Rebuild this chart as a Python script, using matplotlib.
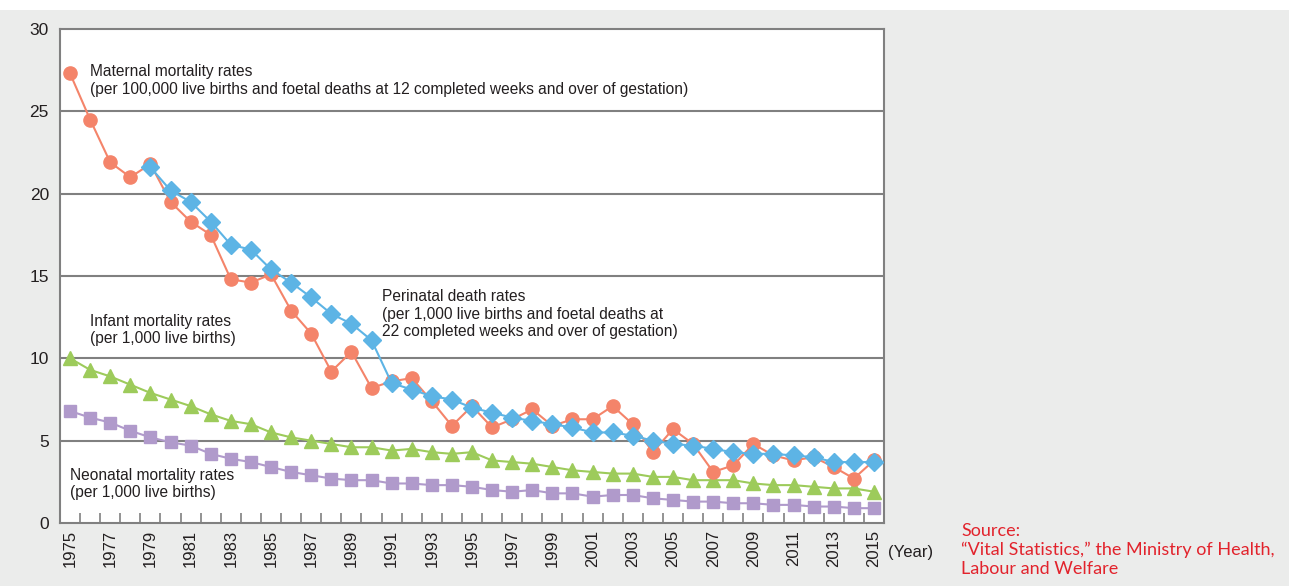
import numpy as np
import matplotlib.pyplot as plt
from matplotlib.patches import Rectangle

plt.rcParams['font.family'] = ['Liberation Sans', 'DejaVu Sans']

# Data
years = list(range(1975, 2016))

maternal = [27.3, 24.5, 21.9, 21.0, 21.8, 19.5, 18.3, 17.5, 14.8, 14.6,
            15.1, 12.9, 11.5, 9.2, 10.4, 8.2, 8.6, 8.8, 7.4, 5.9,
            7.1, 5.8, 6.3, 6.9, 5.9, 6.3, 6.3, 7.1, 6.0, 4.3,
            5.7, 4.8, 3.1, 3.5, 4.8, 4.1, 3.8, 4.0, 3.4, 2.7, 3.8]

perinatal_years = list(range(1979, 2016))
perinatal = [21.6, 20.2, 19.5, 18.3, 16.9, 16.6, 15.4, 14.6, 13.7, 12.7,
             12.1, 11.1, 8.5, 8.1, 7.7, 7.5, 7.0, 6.7, 6.4, 6.2,
             6.0, 5.8, 5.5, 5.5, 5.3, 5.0, 4.8, 4.7, 4.5, 4.3,
             4.2, 4.2, 4.1, 4.0, 3.7, 3.7, 3.7]

infant = [10.0, 9.3, 8.9, 8.4, 7.9, 7.5, 7.1, 6.6, 6.2, 6.0,
          5.5, 5.2, 5.0, 4.8, 4.6, 4.6, 4.4, 4.5, 4.3, 4.2,
          4.3, 3.8, 3.7, 3.6, 3.4, 3.2, 3.1, 3.0, 3.0, 2.8,
          2.8, 2.6, 2.6, 2.6, 2.4, 2.3, 2.3, 2.2, 2.1, 2.1, 1.9]

neonatal = [6.8, 6.4, 6.1, 5.6, 5.2, 4.9, 4.7, 4.2, 3.9, 3.7,
            3.4, 3.1, 2.9, 2.7, 2.6, 2.6, 2.4, 2.4, 2.3, 2.3,
            2.2, 2.0, 1.9, 2.0, 1.8, 1.8, 1.6, 1.7, 1.7, 1.5,
            1.4, 1.3, 1.3, 1.2, 1.2, 1.1, 1.1, 1.0, 1.0, 0.9, 0.9]

c_orange = '#F4846A'
c_blue = '#5DB4E5'
c_green = '#9DCB5B'
c_purple = '#B09ACB'
c_grid = '#808080'
c_text = '#231F20'

fig = plt.figure(figsize=(12.89, 5.86), dpi=100)
fig.patches.append(Rectangle((0, 0), 1, 1 - 10 / 586, transform=fig.transFigure,
                             facecolor='#EBECEB', edgecolor='none', zorder=-10))
ax = fig.add_axes([60 / 1289, 1 - 523 / 586, 824 / 1289, 494 / 586])
ax.set_facecolor('white')

x = np.arange(len(years))
xp = np.array([years.index(y) for y in perinatal_years])

ax.plot(x, neonatal, color=c_purple, lw=1.5, marker='s', ms=8.5, mec=c_purple, zorder=3)
ax.plot(x, infant, color=c_green, lw=1.5, marker='^', ms=9.5, mec=c_green, zorder=3)
ax.plot(x, maternal, color=c_orange, lw=1.5, marker='o', ms=9.5, mec=c_orange, zorder=4)
ax.plot(xp, perinatal, color=c_blue, lw=1.5, marker='D', ms=9.5, mec=c_blue, zorder=5)

ax.set_xlim(-0.5, len(years) - 0.5)
ax.set_ylim(0, 30)

# grid and frame
for v in range(5, 30, 5):
    ax.axhline(v, color=c_grid, lw=1.5, zorder=1)
for s in ax.spines.values():
    s.set_color(c_grid)
    s.set_linewidth(1.5)

ax.set_yticks(range(0, 31, 5))
ax.tick_params(axis='y', length=0, pad=8, labelsize=12.5, labelcolor=c_text)

odd = [i for i, y in enumerate(years) if y % 2 == 1]
ax.set_xticks(odd)
ax.set_xticklabels([str(years[i]) for i in odd], rotation=90, fontsize=12, color=c_text)
ax.set_xticks(np.arange(0.5, len(years) - 1, 1), minor=True)
ax.tick_params(axis='x', which='major', length=0, pad=5)
ax.tick_params(axis='x', which='minor', direction='in', length=7, width=1.2, color=c_grid)

fig.text(888 / 1289, 1 - 552 / 586, '(Year)', fontsize=12, color=c_text, va='center', ha='left')

# series labels
fs = 11.2
ls = 1.2
ax.text(1.0, 27.85, 'Maternal mortality rates\n(per 100,000 live births and foetal deaths at 12 completed weeks and over of gestation)',
        fontsize=fs, color=c_text, va='top', ha='left', linespacing=ls)
ax.text(15.5, 14.2, 'Perinatal death rates\n(per 1,000 live births and foetal deaths at\n22 completed weeks and over of gestation)',
        fontsize=fs, color=c_text, va='top', ha='left', linespacing=ls)
ax.text(1.0, 12.7, 'Infant mortality rates\n(per 1,000 live births)',
        fontsize=fs, color=c_text, va='top', ha='left', linespacing=ls)
ax.text(0.0, 3.35, 'Neonatal mortality rates\n(per 1,000 live births)',
        fontsize=fs, color=c_text, va='top', ha='left', linespacing=ls)

fig.text(961 / 1289, 1 - 550 / 586,
         'Source:\n\u201cVital Statistics,\u201d the Ministry of Health,\nLabour and Welfare',
         fontsize=13, color='#E2232C', va='center', ha='left', linespacing=1.25,
         family=['Lato', 'DejaVu Sans'])

fig.savefig('out.png', dpi=100)
